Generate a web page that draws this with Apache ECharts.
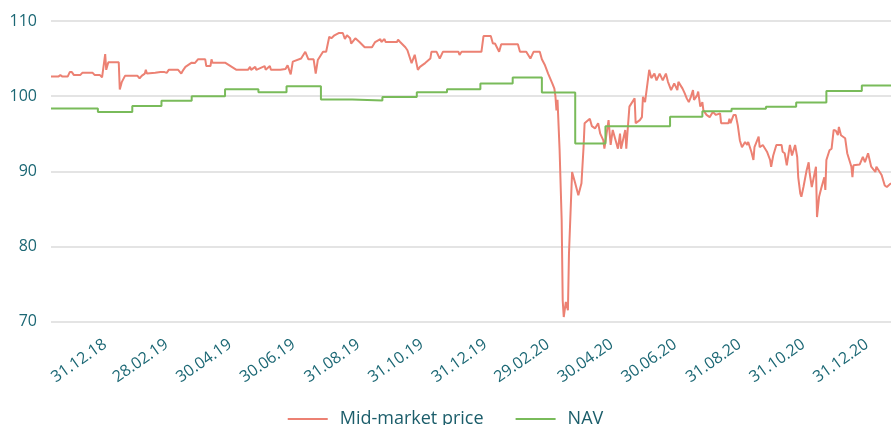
<!DOCTYPE html>
<html>
<head>
<meta charset="utf-8">
<script src="https://cdn.jsdelivr.net/npm/echarts@6/dist/echarts.min.js"></script>
<style>
html,body{margin:0;padding:0;background:#fff}
#main{width:891px;height:425px}
</style>
</head>
<body>
<div id="main"></div>
<script>
// 坐标轴范围（日）
const startDate = '2018-11-06', endDate = '2021-01-20';
// 横轴显示的刻度
const tickLabels = ['31.12.18', '28.02.19', '30.04.19', '30.06.19', '31.08.19', '31.10.19', '31.12.19',
	'29.02.20', '30.04.20', '30.06.20', '31.08.20', '31.10.20', '31.12.20'];

// NAV（阶梯）
const navDates = ['2018-11-06', '2018-12-21', '2019-01-23', '2019-02-20', '2019-03-21', '2019-04-22', '2019-05-24',
	'2019-06-20', '2019-07-23', '2019-08-22', '2019-09-20', '2019-10-23', '2019-11-21', '2019-12-23',
	'2020-01-23', '2020-02-20', '2020-03-23', '2020-04-21', '2020-06-22', '2020-07-23', '2020-08-20',
	'2020-09-22', '2020-10-21', '2020-11-19', '2020-12-23', '2021-01-20'];
const navValues = [98.36, 97.9, 98.67, 99.37, 100.0, 100.9, 100.5,
	101.33, 99.56, 99.42, 99.9, 100.5, 100.93, 101.69,
	102.49, 100.49, 93.69, 96.0, 97.24, 98.0, 98.31,
	98.58, 99.16, 100.67, 101.42, 101.42];

// Mid-market price
const priceDates = [
	'2018-11-06', '2018-11-13', '2018-11-15', '2018-11-17', '2018-11-22', '2018-11-24', '2018-11-26', '2018-11-28',
	'2018-12-04', '2018-12-06', '2018-12-16', '2018-12-18', '2018-12-23', '2018-12-25', '2018-12-26', '2018-12-28',
	'2018-12-29', '2018-12-31', '2019-01-10', '2019-01-11', '2019-01-13', '2019-01-16', '2019-01-22', '2019-01-28',
	'2019-01-30', '2019-02-01', '2019-02-04', '2019-02-05', '2019-02-06', '2019-02-14', '2019-02-19', '2019-02-23',
	'2019-02-25', '2019-02-27', '2019-03-08', '2019-03-11', '2019-03-13', '2019-03-15', '2019-03-21', '2019-03-24',
	'2019-03-27', '2019-04-03', '2019-04-04', '2019-04-08', '2019-04-09', '2019-04-10', '2019-04-22', '2019-05-03',
	'2019-05-14', '2019-05-16', '2019-05-17', '2019-05-21', '2019-05-22', '2019-05-30', '2019-05-31', '2019-06-04',
	'2019-06-05', '2019-06-14', '2019-06-19', '2019-06-21', '2019-06-24', '2019-06-26', '2019-07-04', '2019-07-08',
	'2019-07-11', '2019-07-16', '2019-07-18', '2019-07-20', '2019-07-25', '2019-07-28', '2019-07-31', '2019-08-02',
	'2019-08-05', '2019-08-09', '2019-08-13', '2019-08-15', '2019-08-17', '2019-08-20', '2019-08-21', '2019-08-25',
	'2019-08-29', '2019-09-03', '2019-09-10', '2019-09-13', '2019-09-18', '2019-09-19', '2019-09-22', '2019-09-23',
	'2019-10-04', '2019-10-05', '2019-10-07', '2019-10-12', '2019-10-14', '2019-10-18', '2019-10-21', '2019-10-24',
	'2019-10-26', '2019-10-31', '2019-11-05', '2019-11-06', '2019-11-11', '2019-11-14', '2019-11-17', '2019-12-02',
	'2019-12-03', '2019-12-05', '2019-12-24', '2019-12-26', '2020-01-02', '2020-01-04', '2020-01-06', '2020-01-10',
	'2020-01-12', '2020-01-28', '2020-01-30', '2020-02-05', '2020-02-09', '2020-02-10', '2020-02-12', '2020-02-18',
	'2020-02-20', '2020-02-23', '2020-02-26', '2020-03-01', '2020-03-03', '2020-03-04', '2020-03-05', '2020-03-06',
	'2020-03-08', '2020-03-10', '2020-03-11', '2020-03-12', '2020-03-14', '2020-03-16', '2020-03-17', '2020-03-20',
	'2020-03-23', '2020-03-26', '2020-03-29', '2020-03-31', '2020-04-01', '2020-04-06', '2020-04-08', '2020-04-11',
	'2020-04-14', '2020-04-16', '2020-04-19', '2020-04-20', '2020-04-24', '2020-04-26', '2020-04-28', '2020-05-03',
	'2020-05-05', '2020-05-06', '2020-05-10', '2020-05-11', '2020-05-14', '2020-05-19', '2020-05-20', '2020-05-24',
	'2020-05-26', '2020-05-27', '2020-05-29', '2020-06-02', '2020-06-04', '2020-06-07', '2020-06-09', '2020-06-12',
	'2020-06-15', '2020-06-18', '2020-06-20', '2020-06-23', '2020-06-26', '2020-06-29', '2020-06-30', '2020-07-04',
	'2020-07-06', '2020-07-08', '2020-07-10', '2020-07-12', '2020-07-14', '2020-07-15', '2020-07-18', '2020-07-19',
	'2020-07-21', '2020-07-23', '2020-07-24', '2020-07-27', '2020-07-30', '2020-08-02', '2020-08-05', '2020-08-09',
	'2020-08-10', '2020-08-17', '2020-08-18', '2020-08-19', '2020-08-22', '2020-08-24', '2020-08-26', '2020-08-28',
	'2020-08-30', '2020-09-02', '2020-09-04', '2020-09-05', '2020-09-08', '2020-09-10', '2020-09-11', '2020-09-15',
	'2020-09-16', '2020-09-19', '2020-09-23', '2020-09-26', '2020-09-27', '2020-09-29', '2020-10-02', '2020-10-07',
	'2020-10-08', '2020-10-10', '2020-10-12', '2020-10-15', '2020-10-17', '2020-10-20', '2020-10-22', '2020-10-23',
	'2020-10-25', '2020-10-26', '2020-10-28', '2020-10-31', '2020-11-02', '2020-11-03', '2020-11-05', '2020-11-09',
	'2020-11-10', '2020-11-12', '2020-11-14', '2020-11-17', '2020-11-18', '2020-11-19', '2020-11-22', '2020-11-24',
	'2020-11-26', '2020-11-28', '2020-11-30', '2020-12-01', '2020-12-03', '2020-12-07', '2020-12-09', '2020-12-11',
	'2020-12-13', '2020-12-14', '2020-12-15', '2020-12-21', '2020-12-24', '2020-12-26', '2020-12-29', '2021-01-01',
	'2021-01-05', '2021-01-06', '2021-01-11', '2021-01-14', '2021-01-16', '2021-01-20'];
const priceValues = [
	102.6, 102.6, 102.8, 102.6, 102.6, 103.2, 103.2, 102.8,
	102.8, 103.1, 103.1, 102.8, 102.8, 102.5, 102.5, 105.6,
	103.5, 104.5, 104.5, 100.9, 101.9, 102.7, 102.7, 102.7,
	102.35, 102.7, 103.0, 103.5, 103.0, 103.1, 103.2, 103.2,
	103.1, 103.5, 103.5, 103.0, 103.5, 103.9, 104.45, 104.4,
	104.9, 104.9, 104.0, 104.0, 104.9, 104.45, 104.45, 103.5,
	103.5, 103.9, 103.5, 103.9, 103.5, 104.0, 103.5, 104.0,
	103.5, 103.5, 103.6, 104.1, 102.9, 104.6, 105.0, 105.9,
	104.9, 104.9, 103.0, 104.8, 105.9, 105.9, 107.9, 107.7,
	108.1, 108.4, 108.4, 107.6, 108.1, 107.7, 107.0, 107.7,
	107.2, 106.5, 106.5, 107.2, 107.6, 107.2, 107.6, 107.2,
	107.2, 107.5, 107.2, 106.5, 106.1, 104.4, 105.5, 103.5,
	103.9, 104.4, 105.0, 105.9, 105.9, 105.0, 105.9, 105.9,
	105.5, 105.9, 105.9, 108.0, 108.0, 107.0, 107.0, 105.9,
	106.9, 106.9, 105.9, 105.9, 105.0, 105.0, 105.9, 105.9,
	104.9, 104.1, 103.0, 101.7, 101.0, 100.0, 98.1, 99.5,
	92.9, 83.5, 72.8, 70.6, 72.6, 71.5, 79.0, 89.9,
	88.4, 86.8, 88.4, 93.2, 96.4, 97.0, 96.0, 95.7,
	96.4, 95.0, 94.1, 93.0, 96.8, 93.5, 95.5, 93.0,
	95.0, 93.0, 95.5, 93.0, 98.6, 99.7, 96.4, 96.8,
	97.2, 99.9, 99.2, 103.5, 102.4, 103.0, 102.1, 103.0,
	102.1, 103.0, 101.9, 100.8, 101.7, 100.8, 101.9, 101.0,
	100.4, 99.7, 99.2, 99.9, 100.8, 99.5, 100.1, 100.6,
	98.6, 99.2, 98.1, 97.5, 97.2, 97.9, 97.5, 97.7,
	96.4, 96.4, 97.0, 96.4, 97.5, 97.5, 96.1, 94.1,
	93.2, 93.9, 93.5, 93.9, 92.6, 91.5, 93.2, 94.6,
	93.2, 93.5, 92.6, 91.5, 90.6, 92.1, 93.5, 93.5,
	92.6, 92.4, 90.8, 93.5, 92.1, 93.5, 91.9, 89.2,
	87.0, 86.6, 87.9, 90.1, 91.2, 89.7, 87.9, 90.6,
	83.9, 86.6, 87.7, 89.2, 87.5, 91.5, 92.8, 93.0,
	95.5, 95.4, 94.8, 95.9, 94.8, 94.4, 92.4, 91.5,
	90.6, 89.2, 90.8, 90.9, 91.9, 91.2, 92.4, 90.6,
	89.9, 90.6, 89.5, 88.1, 87.9, 88.4];

const textColor = '#1b6774';

// 每日一个类目
function buildDays(from, to){
	const days = [];
	let t = Date.parse(from + 'T00:00:00Z');
	const end = Date.parse(to + 'T00:00:00Z');
	while (t <= end) {
		days.push(new Date(t).toISOString().slice(0, 10));
		t += 86400000;
	}
	return days;
}
function fmtDay(s){
	return s.slice(8, 10) + '.' + s.slice(5, 7) + '.' + s.slice(2, 4);
}

const days = buildDays(startDate, endDate);
const priceData = priceDates.map(function(d, i){ return [d, priceValues[i]]; });
const navData = navDates.map(function(d, i){ return [d, navValues[i]]; });

const myChart = echarts.init(document.getElementById('main'), null, {renderer: 'canvas'});
const option = {
	animation: false,
	backgroundColor: '#fff',
	textStyle: {fontFamily: 'Open Sans'},
	grid: {left: 51, right: 0, top: 21, bottom: 103.5},
	legend: {
		left: 'center',
		top: 405,
		icon: 'rect',
		itemWidth: 40,
		itemHeight: 2,
		itemGap: 32,
		textStyle: {color: '#1b5d6a', fontSize: 18, fontFamily: 'Open Sans', padding: [0, 0, 0, 7]},
		data: ['Mid-market price', 'NAV']
	},
	xAxis: {
		type: 'category',
		data: days,
		boundaryGap: false,
		axisLine: {show: false},
		axisTick: {show: false},
		splitLine: {show: false},
		axisLabel: {
			rotate: 35,
			margin: 19,
			padding: [0, 4, 0, 0],
			color: textColor,
			fontSize: 16,
			fontFamily: 'Open Sans',
			interval: function(index, value){ return tickLabels.indexOf(fmtDay(value)) >= 0; },
			formatter: function(value){ return fmtDay(value); }
		}
	},
	yAxis: {
		type: 'value',
		min: 70,
		max: 110,
		interval: 10,
		axisLine: {show: false},
		axisTick: {show: false},
		axisLabel: {color: textColor, fontSize: 16, margin: 14, fontFamily: 'Open Sans'},
		splitLine: {lineStyle: {color: '#e4e4e4', width: 2}}
	},
	series: [
		{
			name: 'Mid-market price',
			type: 'line',
			data: priceData,
			showSymbol: false,
			color: '#ec8173',
			lineStyle: {width: 2, color: '#ec8173'}
		},
		{
			name: 'NAV',
			type: 'line',
			step: 'end',
			data: navData,
			showSymbol: false,
			color: '#79bb5a',
			lineStyle: {width: 2, color: '#79bb5a'}
		}
	]
};
myChart.setOption(option);
</script>
</body>
</html>
